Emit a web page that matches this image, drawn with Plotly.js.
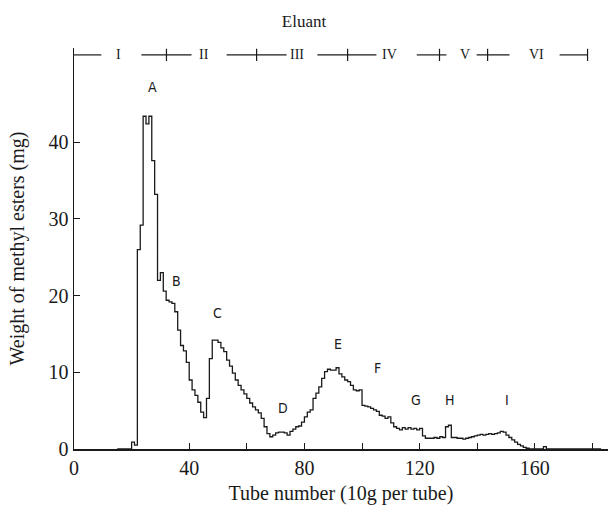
<!DOCTYPE html>
<html>
<head>
<meta charset="utf-8">
<script src="https://cdn.plot.ly/plotly-3.0.1.min.js"></script>
<style>html,body{margin:0;padding:0;background:#fff;}#chart{width:608px;height:509px;}</style>
</head>
<body>
<div id="chart"></div>
<script>
// Tube numbers and weight of methyl esters (mg)
const tubes = [];
for (let t = 15; t <= 183; t++) tubes.push(t);
const weights = [
  0, 0, 0, 0, 0,                 // 15-19
  0.9, 0.5, 26.0, 29.2, 43.4,    // 20-24
  42.4, 43.4, 37.6, 33.2, 22.0,  // 25-29
  23.0, 20.6, 19.4, 19.2, 19.0,  // 30-34
  17.9, 15.5, 13.5, 12.8, 11.3,  // 35-39
  9.0, 7.7, 7.0, 6.1, 4.8,       // 40-44
  4.1, 6.6, 11.8, 14.2, 14.2,    // 45-49
  13.9, 13.2, 12.7, 11.6, 10.8,  // 50-54
  9.9, 9.0, 8.3, 7.7, 7.2,       // 55-59
  6.6, 6.0, 5.5, 5.1, 4.7,       // 60-64
  4.0, 2.9, 2.0, 1.6, 1.8,       // 65-69
  2.1, 2.2, 2.2, 2.1, 1.8,       // 70-74
  2.3, 2.6, 2.9, 3.0, 3.5,       // 75-79
  4.2, 4.8, 5.1, 6.6, 7.3,       // 80-84
  8.1, 9.2, 10.1, 10.4, 10.3,    // 85-89
  10.3, 10.6, 9.8, 9.4, 9.0,     // 90-94
  8.8, 8.3, 7.7, 7.6, 7.7,       // 95-99
  5.7, 5.6, 5.5, 5.3, 5.1,       // 100-104
  4.9, 4.4, 4.3, 4.0, 4.2,       // 105-109
  3.4, 2.9, 2.7, 2.5, 2.8,       // 110-114
  2.6, 2.8, 2.6, 2.7, 2.5,       // 115-119
  2.7, 1.7, 1.4, 1.4, 1.4,       // 120-124
  1.5, 1.4, 1.6, 1.5, 2.9,       // 125-129
  3.1, 1.5, 1.5, 1.4, 1.4,       // 130-134
  1.3, 1.4, 1.5, 1.6, 1.7,       // 135-139
  1.8, 1.9, 1.8, 1.9, 2.0,       // 140-144
  1.9, 2.0, 2.1, 2.3, 2.2,       // 145-149
  1.8, 1.5, 1.2, 0.9, 0.6,       // 150-154
  0.4, 0.2, 0.1, 0, 0,           // 155-159
  0, 0, 0, 0.3, 0,               // 160-164
  0, 0, 0, 0, 0,                 // 165-169
  0, 0, 0, 0, 0,                 // 170-174
  0, 0, 0, 0, 0,                 // 175-179
  0, 0, 0, 0                     // 180-183
];

// Peak labels
const peakNames = ["A", "B", "C", "D", "E", "F", "G", "H", "I"];
const peakX = [27.3, 35.6, 49.8, 72.4, 91.5, 105.4, 118.9, 130.4, 150.5];
const peakY = [47.2, 21.9, 17.7, 5.3, 13.7, 10.6, 6.4, 6.4, 6.4];

// Eluant fractions (tube ranges on the top bar)
const eluantNames = ["I", "II", "III", "IV", "V", "VI"];
const eluantLabelX = [15.5, 45.0, 77.3, 109.5, 135.6, 160.6];
const eluantDividers = [32.1, 63.4, 95.0, 126.9, 143.6, 178.3];
const eluantSegments = [[0, 9.5], [23.4, 40.8], [53.0, 73.8], [84.5, 105.0], [119.0, 129.3], [139.8, 151.2], [168.6, 178.3]];

const xTicks = [0, 20, 40, 60, 80, 100, 120, 140, 160, 180];
const xTickText = ["0", "", "40", "", "80", "", "120", "", "160", ""];
const yTicks = [0, 10, 20, 30, 40];

const SERIF = "'Liberation Serif', 'Times New Roman', 'DejaVu Serif', serif";
const NARROW = "'Liberation Sans Narrow', 'DejaVu Sans Condensed', 'Liberation Sans', sans-serif";
const INK = "#1a1a1a";

const barY = 51.4;
const shapes = [];
eluantSegments.forEach(s => shapes.push({type: "line", xref: "x", yref: "y", x0: s[0], x1: s[1], y0: barY, y1: barY, line: {color: INK, width: 1.2}}));
eluantDividers.forEach(d => shapes.push({type: "line", xref: "x", yref: "y", x0: d, x1: d, y0: 50.6, y1: 52.2, line: {color: INK, width: 1.2}}));

const annotations = [];
peakNames.forEach((n, i) => annotations.push({x: peakX[i], y: peakY[i], xref: "x", yref: "y", text: n, showarrow: false,
  font: {family: NARROW, size: 14, color: INK}}));
eluantNames.forEach((n, i) => annotations.push({x: eluantLabelX[i], y: barY, xref: "x", yref: "y", text: n, showarrow: false,
  font: {family: SERIF, size: 14, color: INK}}));

const trace = {
  x: tubes, y: weights, type: "scatter", mode: "lines",
  line: {shape: "hv", color: INK, width: 1.3},
  hoverinfo: "skip"
};

const layout = {
  width: 608, height: 509,
  margin: {l: 74, r: 0, t: 48, b: 60},
  paper_bgcolor: "#fff", plot_bgcolor: "#fff",
  showlegend: false,
  font: {family: SERIF, color: INK},
  title: {text: "Eluant", x: 0.5, xanchor: "center", y: 0.958, yanchor: "middle", font: {size: 17, family: SERIF, color: INK}},
  xaxis: {
    range: [0, 185.4], showgrid: false, zeroline: false,
    showline: true, linecolor: INK, linewidth: 1.5,
    tickmode: "array", tickvals: xTicks, ticktext: xTickText,
    ticks: "inside", ticklen: 6, tickcolor: INK, tickwidth: 1,
    tickfont: {size: 20, family: SERIF, color: INK},
    title: {text: "Tube number (10g per tube)", standoff: 8, font: {size: 20, family: SERIF, color: INK}}
  },
  yaxis: {
    range: [0, 52.3], showgrid: false, zeroline: false,
    showline: true, linecolor: INK, linewidth: 1.5,
    tickmode: "array", tickvals: yTicks,
    ticks: "inside", ticklen: 6, tickcolor: INK, tickwidth: 1,
    tickfont: {size: 20, family: SERIF, color: INK},
    title: {text: "Weight of methyl esters (mg)", standoff: 18, font: {size: 20, family: SERIF, color: INK}}
  },
  shapes: shapes,
  annotations: annotations
};

Plotly.newPlot("chart", [trace], layout, {displayModeBar: false, staticPlot: true});
</script>
</body>
</html>
